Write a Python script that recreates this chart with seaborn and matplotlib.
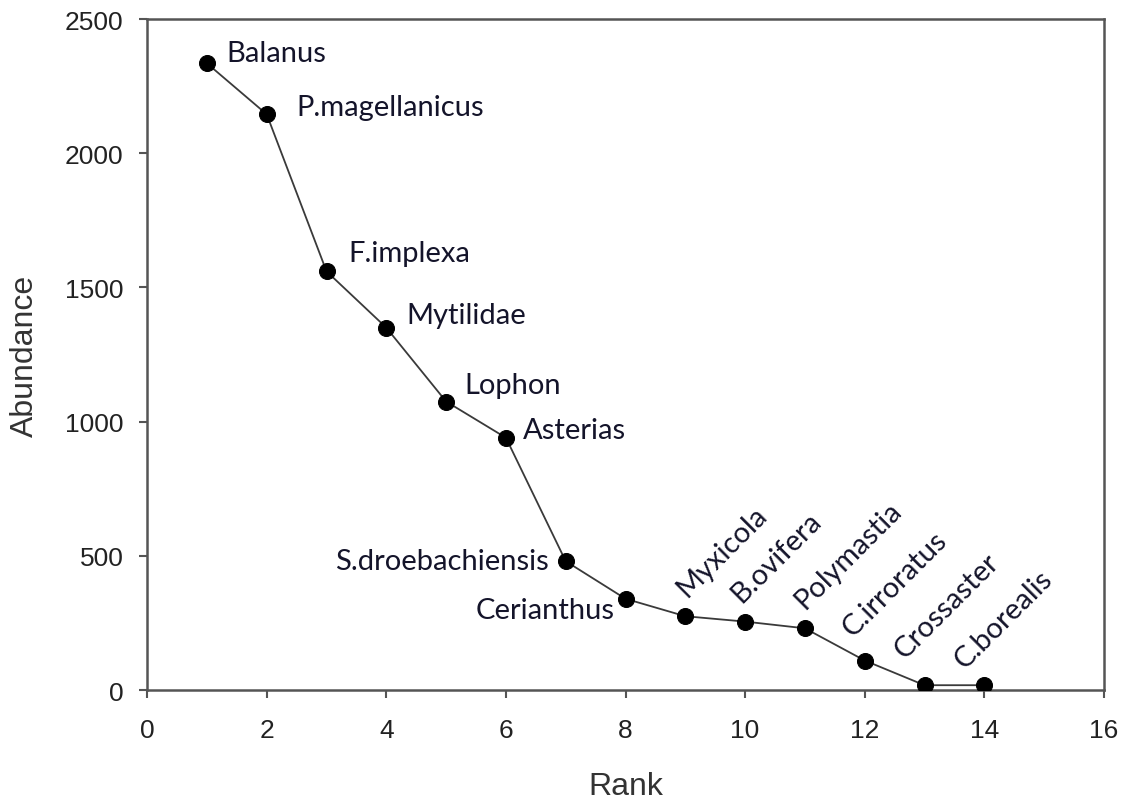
import matplotlib
matplotlib.use("Agg")
import matplotlib.pyplot as plt
import seaborn as sns
import pandas as pd

# Rank-abundance of taxa
ranks = [1, 2, 3, 4, 5, 6, 7, 8, 9, 10, 11, 12, 13, 14]
abundance = [2335, 2145, 1560, 1350, 1075, 940, 480, 340, 275, 255, 230, 110, 18, 18]
taxa = ["Balanus", "P.magellanicus", "F.implexa", "Mytilidae", "Lophon", "Asterias",
        "S.droebachiensis", "Cerianthus", "Myxicola", "B.ovifera", "Polymastia",
        "C.irroratus", "Crossaster", "C.borealis"]
x_ticks = [0, 2, 4, 6, 8, 10, 12, 14, 16]
y_ticks = [0, 500, 1000, 1500, 2000, 2500]

df = pd.DataFrame({"Rank": ranks, "Abundance": abundance, "Taxon": taxa})

sns.set_style("ticks")
plt.rcParams["font.family"] = ["Liberation Sans", "DejaVu Sans"]

fig = plt.figure(figsize=(11.23, 8.04), dpi=100)
ax = fig.add_axes([0.131, 0.1405, 0.852, 0.8346])

sns.lineplot(data=df, x="Rank", y="Abundance", ax=ax, color="#3a3a3a", linewidth=1.3,
             marker="o", markersize=11.5, markerfacecolor="black",
             markeredgecolor="black", zorder=3)

label_font = dict(fontsize=21, family=["Lato", "DejaVu Sans"], color="#14142a")

# label placement: (dx, dy) in pixels, horizontal alignment, rotation
placement = [
    (19, 10, "left", 0), (30, 7, "left", 0), (22, 18, "left", 0), (20, 13, "left", 0),
    (18, 17, "left", 0), (17, 8, "left", 0), (-17, 0, "right", 0), (-11, -11, "right", 0),
    (2, 19, "left", 45), (-4, 19, "left", 45), (0, 19, "left", 45), (-12, 24, "left", 45),
    (-20, 26, "left", 45), (-20, 16, "left", 45),
]
for r, a, t, (dx, dy, ha, rot) in zip(ranks, abundance, taxa, placement):
    if rot:
        ax.annotate(t, (r, a), xytext=(dx, dy), textcoords="offset pixels",
                    ha="left", va="baseline", rotation=rot, rotation_mode="anchor",
                    **label_font)
    else:
        ax.annotate(t, (r, a), xytext=(dx, dy), textcoords="offset pixels",
                    ha=ha, va="center", **label_font)

ax.set_xlim(0, 16)
ax.set_ylim(0, 2500)
ax.set_xticks(x_ticks)
ax.set_yticks(y_ticks)
ax.tick_params(axis="both", direction="out", length=6, width=1.5, color="#555555",
               labelsize=19, labelcolor="#222222")
ax.tick_params(axis="x", pad=14)
ax.tick_params(axis="y", pad=11)
for side in ["left", "bottom", "right", "top"]:
    ax.spines[side].set_visible(True)
    ax.spines[side].set_color("#555555")
    ax.spines[side].set_linewidth(1.8)

ax.set_xlabel("Rank", fontsize=23, color="#333333", labelpad=21)
ax.set_ylabel("Abundance", fontsize=23, color="#333333", labelpad=18)

fig.savefig("out.png", dpi=100, facecolor="white")
